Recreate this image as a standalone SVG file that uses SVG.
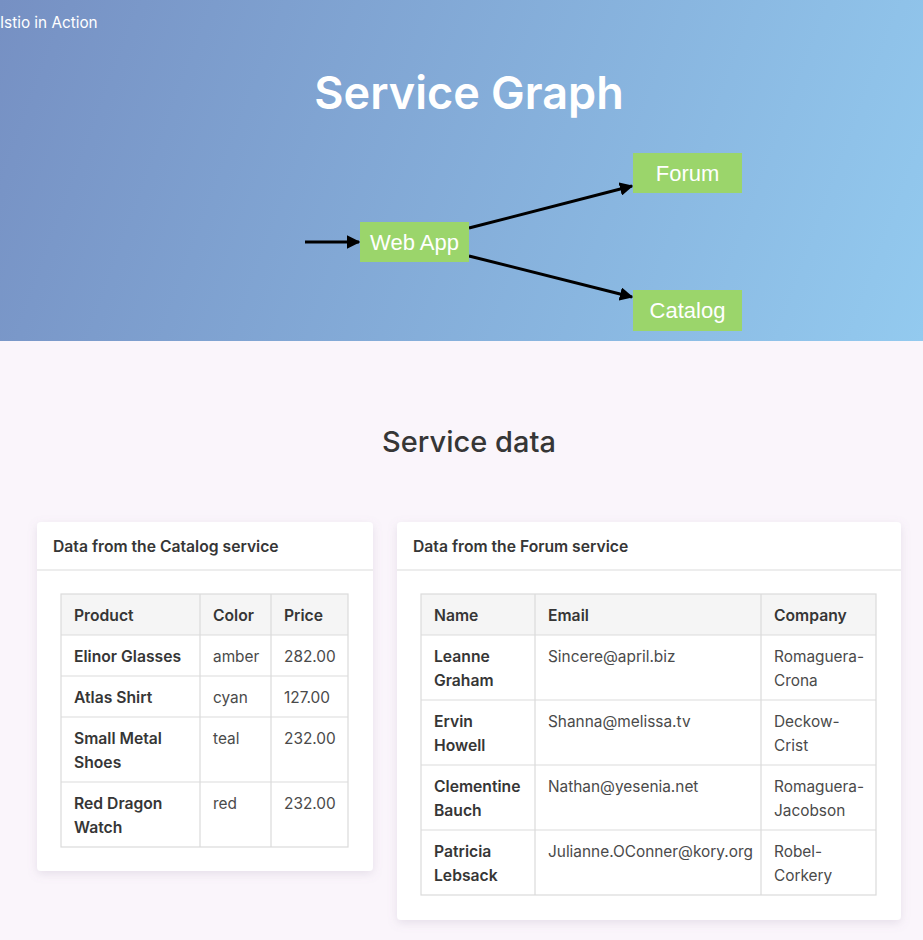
<svg xmlns="http://www.w3.org/2000/svg" width="923" height="940" viewBox="0 0 923 940">
<defs>
<linearGradient id="hdr" x1="0" y1="0" x2="923" y2="341" gradientUnits="userSpaceOnUse">
<stop offset="0" stop-color="#7690c3"/>
<stop offset="1" stop-color="#93caef"/>
</linearGradient>
<marker id="ah" viewBox="0 0 10 10" refX="9" refY="5" markerWidth="4.5" markerHeight="4.5" orient="auto" markerUnits="strokeWidth">
<path d="M0,0 L10,5 L0,10 z" fill="#000"/>
</marker>
<filter id="sh" x="-10%" y="-10%" width="120%" height="125%">
<feDropShadow dx="0" dy="3" stdDeviation="5" flood-color="#8a7a99" flood-opacity="0.18"/>
</filter>
</defs>
<style>
.node rect{fill:#9bd56b}
.node text{font-family:"Liberation Sans",Arial,sans-serif;font-size:22px;fill:#fff;text-anchor:middle}
.edge{stroke:#000;stroke-width:3;fill:none;marker-end:url(#ah)}
.card{fill:#fff;filter:url(#sh)}
.ctitle{font-family:Inter,"Noto Sans",sans-serif;font-size:15.7px;font-weight:600;fill:#363636}
.th{font-family:Inter,"Noto Sans",sans-serif;font-size:15.7px;font-weight:600;fill:#363636}
.td{font-family:Inter,"Noto Sans",sans-serif;font-size:15.4px;fill:#4a4a4a}
.tb{font-family:Inter,"Noto Sans",sans-serif;font-size:15.7px;font-weight:600;fill:#363636}
.grid{stroke:#dbdbdb;stroke-width:1.2;fill:none}
</style>
<rect x="0" y="0" width="923" height="940" fill="#faf5fb"/>
<rect x="0" y="0" width="923" height="341" fill="url(#hdr)"/>
<text x="0" y="28" font-family="Inter,'Noto Sans',sans-serif" font-size="15.3" fill="#fff">Istio in Action</text>
<text x="469" y="109" font-family="Inter,'Noto Sans',sans-serif" font-size="45" font-weight="600" fill="#fff" text-anchor="middle">Service Graph</text>

<g id="connectors">
<line class="edge" x1="305" y1="242" x2="359" y2="242"/>
<line class="edge" x1="469" y1="228" x2="632" y2="186"/>
<line class="edge" x1="469" y1="256" x2="632" y2="297"/>
</g>
<g id="webapp" class="node"><rect x="360" y="222" width="109" height="40"/><text x="414.5" y="250">Web App</text></g>
<g id="forum" class="node"><rect x="633" y="153" width="109" height="40"/><text x="687.5" y="181">Forum</text></g>
<g id="catalog" class="node"><rect x="633" y="290" width="109" height="41"/><text x="687.5" y="318">Catalog</text></g>

<text x="469" y="452" font-family="Inter,'Noto Sans',sans-serif" font-size="29" font-weight="500" fill="#363636" text-anchor="middle">Service data</text>

<g id="catalog-card">
<rect class="card" x="37" y="522" width="336" height="349" rx="4"/>
<rect x="37" y="569" width="336" height="2" fill="#ededed"/>
<text class="ctitle" x="53" y="552">Data from the Catalog service</text>
<rect x="61" y="594" width="287" height="41" fill="#f5f5f5"/>
<rect class="grid" x="61" y="594" width="287" height="253"/>
<path class="grid" d="M200,594V847M271,594V847M61,635H348M61,676H348M61,717H348M61,782H348"/>
<text class="th" x="74" y="621">Product</text><text class="th" x="213" y="621">Color</text><text class="th" x="284" y="621">Price</text>
<text class="tb" x="74" y="662">Elinor Glasses</text><text class="td" x="213" y="662">amber</text><text class="td" x="284" y="662">282.00</text>
<text class="tb" x="74" y="703">Atlas Shirt</text><text class="td" x="213" y="703">cyan</text><text class="td" x="284" y="703">127.00</text>
<text class="tb" x="74" y="744">Small Metal</text><text class="tb" x="74" y="768">Shoes</text><text class="td" x="213" y="744">teal</text><text class="td" x="284" y="744">232.00</text>
<text class="tb" x="74" y="809">Red Dragon</text><text class="tb" x="74" y="833">Watch</text><text class="td" x="213" y="809">red</text><text class="td" x="284" y="809">232.00</text>
</g>

<g id="forum-card">
<rect class="card" x="397" y="522" width="504" height="398" rx="4"/>
<rect x="397" y="569" width="504" height="2" fill="#ededed"/>
<text class="ctitle" x="413" y="552">Data from the Forum service</text>
<rect x="421" y="594" width="455" height="41" fill="#f5f5f5"/>
<rect class="grid" x="421" y="594" width="455" height="301"/>
<path class="grid" d="M535,594V895M761,594V895M421,635H876M421,700H876M421,765H876M421,830H876"/>
<text class="th" x="434" y="621">Name</text><text class="th" x="548" y="621">Email</text><text class="th" x="774" y="621">Company</text>
<text class="tb" x="434" y="662">Leanne</text><text class="tb" x="434" y="686">Graham</text><text class="td" x="548" y="662">Sincere@april.biz</text><text class="td" x="774" y="662">Romaguera-</text><text class="td" x="774" y="686">Crona</text>
<text class="tb" x="434" y="727">Ervin</text><text class="tb" x="434" y="751">Howell</text><text class="td" x="548" y="727">Shanna@melissa.tv</text><text class="td" x="774" y="727">Deckow-</text><text class="td" x="774" y="751">Crist</text>
<text class="tb" x="434" y="792">Clementine</text><text class="tb" x="434" y="816">Bauch</text><text class="td" x="548" y="792">Nathan@yesenia.net</text><text class="td" x="774" y="792">Romaguera-</text><text class="td" x="774" y="816">Jacobson</text>
<text class="tb" x="434" y="857">Patricia</text><text class="tb" x="434" y="881">Lebsack</text><text class="td" x="548" y="857">Julianne.OConner@kory.org</text><text class="td" x="774" y="857">Robel-</text><text class="td" x="774" y="881">Corkery</text>
</g>
</svg>
